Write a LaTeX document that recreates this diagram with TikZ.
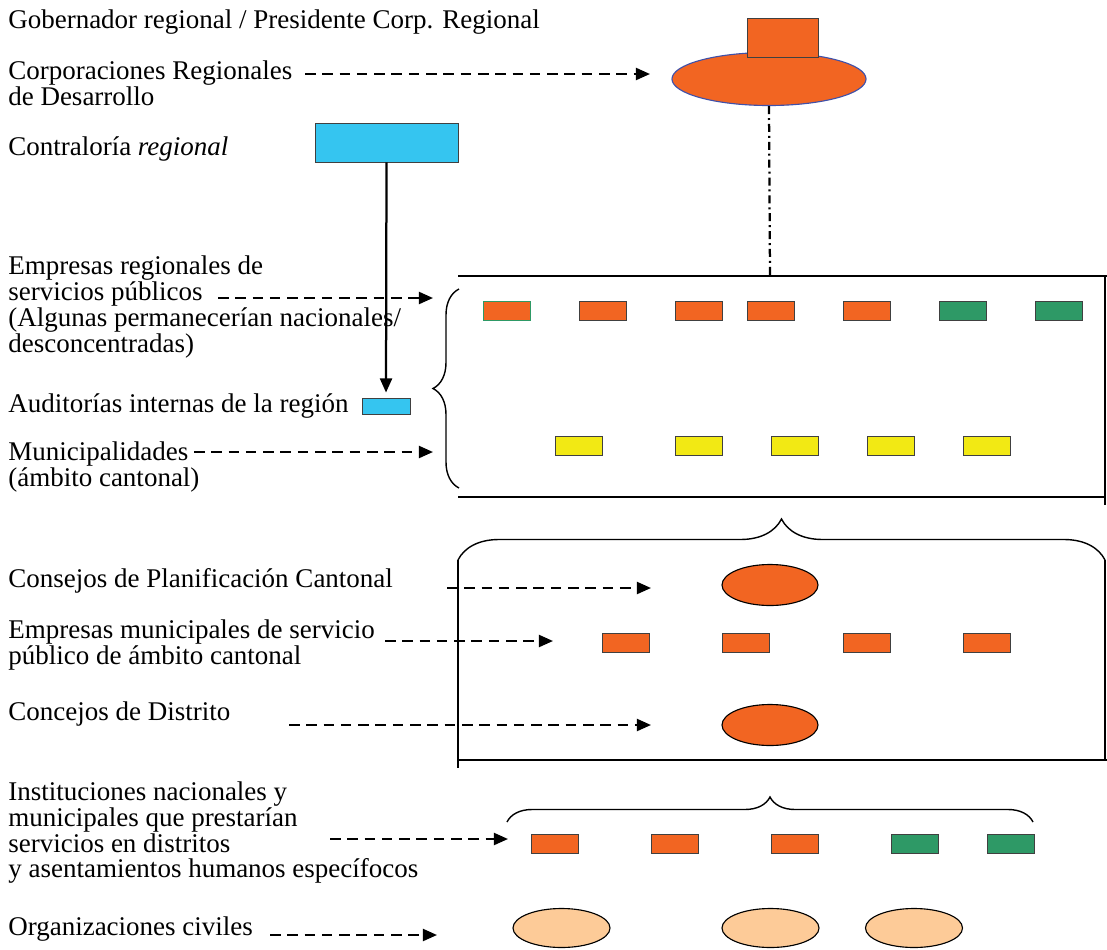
\documentclass[tikz,border=0pt]{standalone}
\usepackage{fontspec}
\setmainfont{Liberation Serif}
\usetikzlibrary{arrows.meta,decorations.pathreplacing,shapes.geometric}

\definecolor{naranja}{RGB}{242,101,34}
\definecolor{verde}{RGB}{46,153,102}
\definecolor{amarillo}{RGB}{242,233,20}
\definecolor{celeste}{RGB}{53,197,240}
\definecolor{durazno}{RGB}{253,203,152}
\definecolor{borde}{RGB}{64,64,64}
\definecolor{azulborde}{RGB}{63,81,170}

\begin{document}
\begin{tikzpicture}[x=0.025cm,y=-0.025cm,>={Triangle[length=10pt,width=8.5pt]},
  txt/.style={anchor=base west,inner sep=0pt,align=left,font=\fontsize{19.2}{17.4}\selectfont},
  caja/.style={draw=borde,line width=0.6pt,minimum width=1.175cm,minimum height=0.475cm,inner sep=0pt},
  elip/.style={ellipse,draw=black,line width=0.8pt,fill=naranja,inner sep=0pt},
  flecha/.style={->,dash pattern=on 7.5pt off 4.8pt,line width=1.6pt},
  llave/.style={decorate,line width=1pt},
  linea/.style={line width=1.4pt}]
  \useasboundingbox (0,0) rectangle (1107,949);

  % textos de la izquierda (base = ultima linea)
  \node[txt] (gob) at (8,28) {Gobernador regional / Presidente Corp. Regional};
  \node[txt] (corp) at (8,105) {Corporaciones Regionales\\de Desarrollo};
  \node[txt] (contral) at (8,155) {Contraloría \textit{regional}};
  \node[txt] (empreg) at (8,352) {Empresas regionales de\\servicios públicos\\(Algunas permanecerían nacionales/\\desconcentradas)};
  \node[txt] (audit) at (8,412) {Auditorías internas de la región};
  \node[txt] (munic) at (8,486) {Municipalidades\\(ámbito cantonal)};
  \node[txt] (consejos) at (8,587) {Consejos de Planificación Cantonal};
  \node[txt] (empmun) at (8,664) {Empresas municipales de servicio\\público de ámbito cantonal};
  \node[txt] (concejos) at (8,720) {Concejos de Distrito};
  \node[txt] (instit) at (8,877) {Instituciones nacionales y\\municipales que prestarían\\servicios en distritos\\y asentamientos humanos específocos};
  \node[txt] (orgciv) at (8,935) {Organizaciones civiles};

  % nivel regional
  \node[elip,draw=azulborde,minimum width=4.85cm,minimum height=1.325cm] (corpreg) at (769,79) {};
  \node[caja,fill=naranja,minimum width=1.775cm,minimum height=0.975cm] (gober) at (782.5,37.5) {};
  \node[caja,fill=celeste,minimum width=3.575cm,minimum height=0.975cm] (contra) at (386.5,142.5) {};
  \node[caja,fill=celeste,minimum width=1.2cm,minimum height=0.4cm] (auditb) at (386,406) {};
  \draw[->,line width=1.6pt,shorten >=3.6pt] (contra.south) -- (auditb.north);

  % primer recuadro
  \coordinate (b1top) at (770,276);
  \draw[line width=1.6pt,dash pattern=on 5.7pt off 2.8pt on 1.4pt off 2.8pt] (corpreg.south) -- (b1top);
  \draw[linea] (458,276) -- (1107,276);
  \draw[linea] (1105,276) -- (1105,505);
  \draw[linea] (458,497) -- (1105,497);
  \draw[llave,decoration={brace,amplitude=0.65cm}] (459,488) -- (459,289);
  \node[caja,fill=naranja,draw=verde] (er1) at (506.5,311) {};
  \foreach \x/\c [count=\i from 2] in {602.5/naranja,698.5/naranja,770.5/naranja,866.5/naranja,962.5/verde,1058.5/verde}
    \node[caja,fill=\c] (er\i) at (\x,311) {};
  \foreach \x [count=\i] in {578.5,698.5,794.5,890.5,986.5}
    \node[caja,fill=amarillo] (mu\i) at (\x,445.5) {};

  % segundo recuadro
  \draw[llave,decoration={brace,amplitude=1.025cm}] (458,560) -- (1105,560);
  \draw[linea] (458,560) -- (458,768);
  \draw[linea] (1105,560) -- (1105,760);
  \draw[linea] (458,760) -- (1107,760);
  \node[elip,minimum width=2.4cm,minimum height=1.025cm] (cpc) at (770,585) {};
  \foreach \x [count=\i] in {625.5,745.5,866.5,986.5}
    \node[caja,fill=naranja] (em\i) at (\x,643) {};
  \node[elip,minimum width=2.4cm,minimum height=1.025cm] (cd) at (770,725) {};

  % instituciones y organizaciones
  \draw[llave,decoration={brace,amplitude=0.625cm}] (507,822) -- (1033,822);
  \foreach \x/\c [count=\i] in {554.5/naranja,674.5/naranja,794.5/naranja,914.5/verde,1010.5/verde}
    \node[caja,fill=\c] (in\i) at (\x,843.5) {};
  \foreach \x [count=\i] in {561.5,770.5,914}
    \node[elip,fill=durazno,minimum width=2.425cm,minimum height=0.975cm] (oc\i) at (\x,928) {};

  % flechas punteadas
  \coordinate (a1) at (305,74);  \coordinate (b1) at (650,74);
  \coordinate (a2) at (218,298); \coordinate (b2) at (433,298);
  \coordinate (a3) at (194,452); \coordinate (b3) at (433,452);
  \coordinate (a4) at (447,588); \coordinate (b4) at (651,588);
  \coordinate (a5) at (385,641); \coordinate (b5) at (553,641);
  \coordinate (a6) at (289,725); \coordinate (b6) at (651,725);
  \coordinate (a7) at (330,839); \coordinate (b7) at (508,839);
  \coordinate (a8) at (270,935); \coordinate (b8) at (437,935);
  \foreach \i in {1,...,8}
    \draw[flecha] (a\i) -- (b\i);
\end{tikzpicture}
\end{document}
